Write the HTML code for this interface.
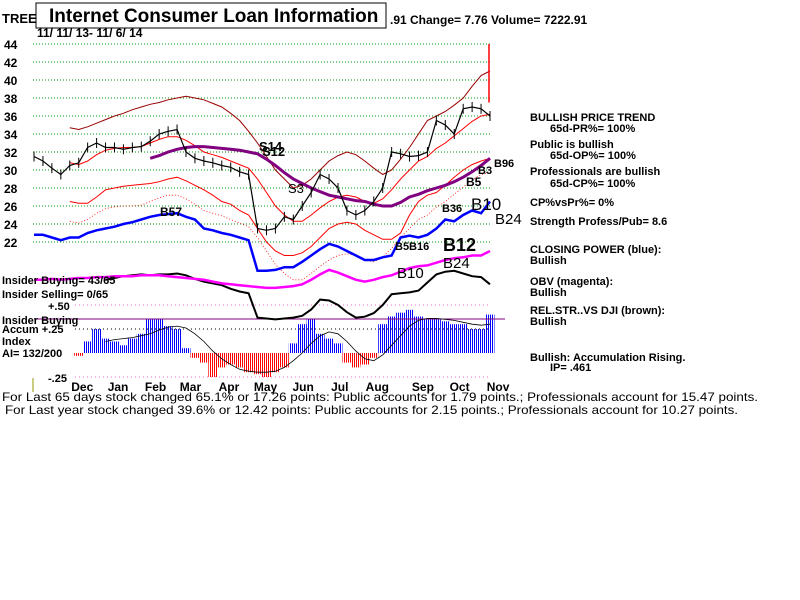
<!DOCTYPE html>
<html><head><meta charset="utf-8"><style>
html,body{margin:0;padding:0;background:#fff;}
svg{display:block;font-family:"Liberation Sans",sans-serif;}
.b{font-weight:bold;font-size:11px;}
</style></head><body>
<svg id="chart" width="800" height="600" viewBox="0 0 800 600" xmlns="http://www.w3.org/2000/svg">
<defs>
<pattern id="blueStripe" width="2" height="4" patternUnits="userSpaceOnUse"><rect width="1" height="4" fill="#0000ff"/></pattern>
<pattern id="redStripe" width="2" height="4" patternUnits="userSpaceOnUse"><rect width="1" height="4" fill="#ff0000"/></pattern>
</defs>
<rect x="0" y="0" width="800" height="600" fill="#fff"/>
<g id="grid"></g>
<g id="yaxis"></g>
<g id="accum"></g>
<g id="lines"></g>
<g id="xaxis"></g>

<text x="2" y="23" font-weight="bold" font-size="13">TREE</text>
<rect x="36" y="3" width="350" height="25" fill="#fff" stroke="#000" stroke-width="1"/>
<text x="49" y="22" font-weight="bold" font-size="19">Internet Consumer Loan Information</text>
<text x="390" y="24" font-weight="bold" font-size="12">.91  Change= 7.76 Volume= 7222.91</text>
<text x="37" y="37" font-weight="bold" font-size="12">11/ 11/ 13- 11/ 6/ 14</text>

<g font-size="13">
<text x="160" y="216" font-weight="bold" font-size="12">B57</text>
<text x="259" y="151" font-weight="bold" font-size="13">S14</text>
<text x="262" y="156" font-weight="bold" font-size="13">S12</text>
<text x="288" y="193">S3</text>
<text x="442" y="212" font-weight="bold" font-size="11">B36</text>
<text x="471" y="210" font-size="17">B10</text>
<text x="495" y="224" font-size="15">B24</text>
<text x="466" y="186" font-weight="bold" font-size="12">B5</text>
<text x="478" y="174" font-weight="bold" font-size="11">B3</text>
<text x="494" y="167" font-weight="bold" font-size="11">B96</text>
<text x="443" y="251" font-weight="bold" font-size="18">B12</text>
<text x="443" y="268" font-size="15">B24</text>
<text x="397" y="278" font-size="15">B10</text>
<text x="395" y="250" font-weight="bold" font-size="11">B5B16</text>
</g>

<g>
<text x="2" y="284" class="b" font-size="12">Insider Buying= 43/65</text>
<text x="2" y="298" class="b">Insider Selling= 0/65</text>
<text x="48" y="310" class="b">+.50</text>
<text x="2" y="324" class="b">Insider Buying</text>
<text x="2" y="333" class="b">Accum  +.25</text>
<text x="2" y="345" class="b">Index</text>
<text x="2" y="357" class="b">AI= 132/200</text>
<text x="48" y="382" class="b">-.25</text>
</g>

<g font-weight="bold" font-size="11">
<text x="530" y="121">BULLISH PRICE TREND</text>
<text x="550" y="132">65d-PR%= 100%</text>
<text x="530" y="148">Public is bullish</text>
<text x="550" y="159">65d-OP%= 100%</text>
<text x="530" y="175">Professionals are bullish</text>
<text x="550" y="187">65d-CP%= 100%</text>
<text x="530" y="206">CP%vsPr%=  0%</text>
<text x="530" y="225">Strength Profess/Pub= 8.6</text>
<text x="530" y="253">CLOSING POWER (blue):</text>
<text x="530" y="264">Bullish</text>
<text x="530" y="285">OBV (magenta):</text>
<text x="530" y="296">Bullish</text>
<text x="530" y="314">REL.STR..VS DJI (brown):</text>
<text x="530" y="325">Bullish</text>
<text x="530" y="361">Bullish: Accumulation Rising.</text>
<text x="550" y="371">IP=  .461</text>
</g>

<text x="2" y="401" font-size="12" textLength="756" lengthAdjust="spacingAndGlyphs">For Last 65 days stock changed  65.1% or  17.26 points:  Public accounts for  1.79 points.;  Professionals account for  15.47 points.</text>
<text x="5" y="414" font-size="12" textLength="733" lengthAdjust="spacingAndGlyphs">For Last year stock changed  39.6% or  12.42 points:  Public accounts for  2.15 points.;  Professionals account for  10.27 points.</text>
<line x1="33" y1="378" x2="33" y2="392" stroke="#999900"/>

<script>
const yTicks = [44,42,40,38,36,34,32,30,28,26,24,22];
const months = ["Dec","Jan","Feb","Mar","Apr","May","Jun","Jul","Aug","Sep","Oct","Nov"];
const monthIdx = [5.4,9.4,13.6,17.5,21.8,25.9,30.1,34.2,38.4,43.5,47.6,51.9];
const price = [31.5,31,30.2,29.5,30.5,30.8,32.5,33,32.5,32.5,32.3,32.5,32.6,33.2,34,34.3,34.5,32,31.3,31,30.8,30.5,30.3,29.8,29.5,23.5,23.3,23.5,24.8,24.5,26,27.5,29.5,29,28,25.5,25,25.5,26.5,28,32,31.8,31.5,31.6,32,35.5,35,34,36.8,37,36.8,36];
const upperBand = [null,null,null,null,34.7,34.5,34.8,35.2,35.6,36,36.3,36.7,37,37.3,37.5,37.8,38,38.2,38,37.8,37.4,37,36.3,35.5,34.3,33,31.5,30,29,28,28.3,29,30,31,31.6,32,31.7,31,30.2,29.5,30,31.2,32.5,34,35.5,36,36.5,37.2,38,39.3,40.5,41];
const midBand = [null,null,null,null,30.8,30.6,31,31.7,32.2,32.4,32.5,32.5,32.6,33,33.4,33.7,33.7,33.3,32.7,32,31.7,31.4,31,30.6,30.2,29,27.5,26,25,24.3,24.3,25,25.8,26.5,27,27.2,27,26.5,26.3,26.8,27.8,29,30,31,31.5,32.4,33,33.8,34.6,35.4,36,36.2];
const lowerBand = [null,null,null,null,26.5,26.3,26.3,27,27.8,28,28.2,28.3,28.4,28.5,28.7,29,29.2,28.8,28.3,27.8,27.2,26.5,26.2,25.5,25,23.5,22,21,20.5,20.5,20.8,21.5,22.5,23.5,24,24.2,24,23.3,22.8,22.3,22.3,23,25,26.5,27.2,27.5,28.3,29.2,30,30.6,31,31.3];
const movingAvg = [null,null,null,null,null,null,null,null,null,null,null,null,null,31.3,31.6,32,32.3,32.5,32.6,32.6,32.5,32.4,32.3,32.2,32,31.8,31.2,30.5,29.7,29,28.5,28,27.6,27.2,27,26.8,26.6,26.5,26.2,26,26,26.4,27,27.3,27.7,28,28.3,28.7,29.2,29.8,30.5,31.3];
const closingPower = [22.8,22.8,22.5,22.2,22.5,22.5,23,23.3,23.5,23.7,24,24.2,24.5,24.8,25,25.1,25.2,24.8,24.5,23.5,23.3,23,22.8,22.5,22.2,18.8,18.8,18.9,19.2,19.2,19.8,20.5,21.2,21.8,21.5,21,20.5,20,20,20.3,20.5,22.5,22.7,22.5,22.8,23.5,24.5,24.3,25,25.5,25.2,26.5];
const obv = [17.8,17.8,17.9,17.8,17.9,18,18,18.1,18.1,18.2,18.2,18.2,18.3,18.3,18.3,18.2,18.1,18,17.9,17.8,17.6,17.4,17.3,17.2,17.1,17,16.9,16.9,17,17.1,17.3,17.8,18.4,18.9,18.6,18.2,17.8,17.6,17.8,18.1,18.3,18.7,19.1,19.3,19.4,19.7,20,20.2,20.3,20.5,20.5,21];
const relStr = [null,null,null,null,null,null,null,null,17.8,18,18.2,18.3,18.4,18.3,18.4,18.4,18.5,18.3,17.9,17.6,17.4,17.2,16.8,16.5,16.3,13.6,13.5,13.4,13.5,13.6,13.8,14.5,15.6,15.5,15,14.2,13.6,13.7,14.1,15,16.2,16.3,16.4,16.6,17.5,18.4,18.7,18.8,18.5,18.2,18.1,17.3];
const accum = [null,null,null,null,null,-0.03,0.12,0.25,0.15,0.12,0.08,0.15,0.2,0.35,0.35,0.28,0.25,0.05,-0.05,-0.1,-0.25,-0.15,-0.12,-0.15,-0.2,-0.22,-0.25,-0.2,-0.15,0.1,0.3,0.35,0.2,0.15,0.1,-0.1,-0.15,-0.12,-0.05,0.3,0.38,0.42,0.45,0.38,0.35,0.35,0.33,0.3,0.3,0.25,0.25,0.4];
const accumMA = [null,null,null,null,null,null,null,null,0.12,0.14,0.15,0.16,0.18,0.2,0.24,0.27,0.28,0.26,0.2,0.12,0.02,-0.06,-0.12,-0.17,-0.19,-0.2,-0.2,-0.19,-0.15,-0.08,0,0.1,0.18,0.22,0.2,0.12,0.02,-0.06,-0.08,-0.02,0.08,0.18,0.28,0.34,0.36,0.36,0.35,0.34,0.32,0.3,0.29,0.3];

const NS = "http://www.w3.org/2000/svg";
const x0 = 34, x1 = 490, N = price.length;
function xs(i){ return x0 + i*(x1-x0)/(N-1); }
function ys(v){ return 44 + (44 - v)*9; }
function ya(v){ return 353 - v*96; }
function mk(tag, attrs, parent){ const e = document.createElementNS(NS, tag); for (const k in attrs) e.setAttribute(k, attrs[k]); parent.appendChild(e); return e; }

const grid = document.getElementById('grid');
const yaxis = document.getElementById('yaxis');
yTicks.forEach(t => {
  const l = mk('line', {x1:33, x2:490, y1:ys(t), y2:ys(t), stroke:'#009900', 'stroke-dasharray':'1,2', 'stroke-width':1}, grid);
  
  
  const tx = mk('text', {x:4, y:ys(t)+5, 'font-size':12, 'font-weight':'bold'}, yaxis);
  tx.textContent = t;
  
  
});
[[0.5,'#ff66cc'],[0.25,'#000'],[-0.25,'#ff66cc']].forEach(r => {
  const l = mk('line', {x1:75, x2:490, y1:ya(r[0]), y2:ya(r[0]), stroke:r[1], 'stroke-dasharray':'1,3'}, grid);
  
  
});

const ag = document.getElementById('accum');
const bw = (x1-x0)/(N-1);
accum.forEach((v,i) => {
  if (v === null) return;
  const y = ya(v), y0 = ya(0);
  const r = mk('rect', {x:xs(i)-bw/2, y:Math.min(y,y0), width:bw, height:Math.abs(y-y0), fill: v>=0 ? 'url(#blueStripe)' : 'url(#redStripe)'}, ag);
  
  
});
const pl = mk('line', {x1:34, x2:505, y1:319, y2:319, stroke:'#800080', 'stroke-width':1}, ag);



const lg = document.getElementById('lines');
function path(arr, fy, color, w, name, dash){
  let d = '', started = false;
  arr.forEach((v,i) => { if (v === null) return; d += (started?'L':'M') + xs(i).toFixed(1) + ',' + fy(v).toFixed(1); started = true; });
  const p = mk('path', {d:d, fill:'none', stroke:color, 'stroke-width':w}, lg);
  if (dash) p.setAttribute('stroke-dasharray', dash);
  
  
}
path(accumMA, ya, '#000', 0.8, 'accum-moving-average');
path(upperBand, ys, '#990000', 1, 'upper-band');
path(midBand, ys, '#ff0000', 1, 'mid-band');
path(lowerBand, ys, '#ff0000', 1, 'lower-band');
path(midBand.map(v => v===null?null:v-6.5), ys, '#ff0000', 0.8, 'closing-power-ma', '1,2');
path(movingAvg, ys, '#800080', 3, 'moving-average');
path(relStr, ys, '#000', 2, 'relative-strength');
path(obv, ys, '#ff00ff', 2.5, 'obv-line');
path(closingPower, ys, '#0000ff', 2.5, 'closing-power');
price.forEach((v,i) => {
  const y = ys(v);
  const b = mk('line', {x1:xs(i), x2:xs(i), y1:y-5, y2:y+5, stroke:'#000', 'stroke-width':1}, lg);
  
  
});
path(price, ys, '#000', 1.2, 'price-line');
const spike = mk('line', {x1:489, x2:489, y1:ys(44), y2:ys(37.5), stroke:'#ff0000', 'stroke-width':1.5}, lg);



const xg = document.getElementById('xaxis');
months.forEach((m,k) => {
  const t = mk('text', {x:xs(monthIdx[k]), y:391, 'font-size':12, 'font-weight':'bold', 'text-anchor':'middle'}, xg);
  t.textContent = m;
  
  
});
</script>
</svg>
</body></html>
